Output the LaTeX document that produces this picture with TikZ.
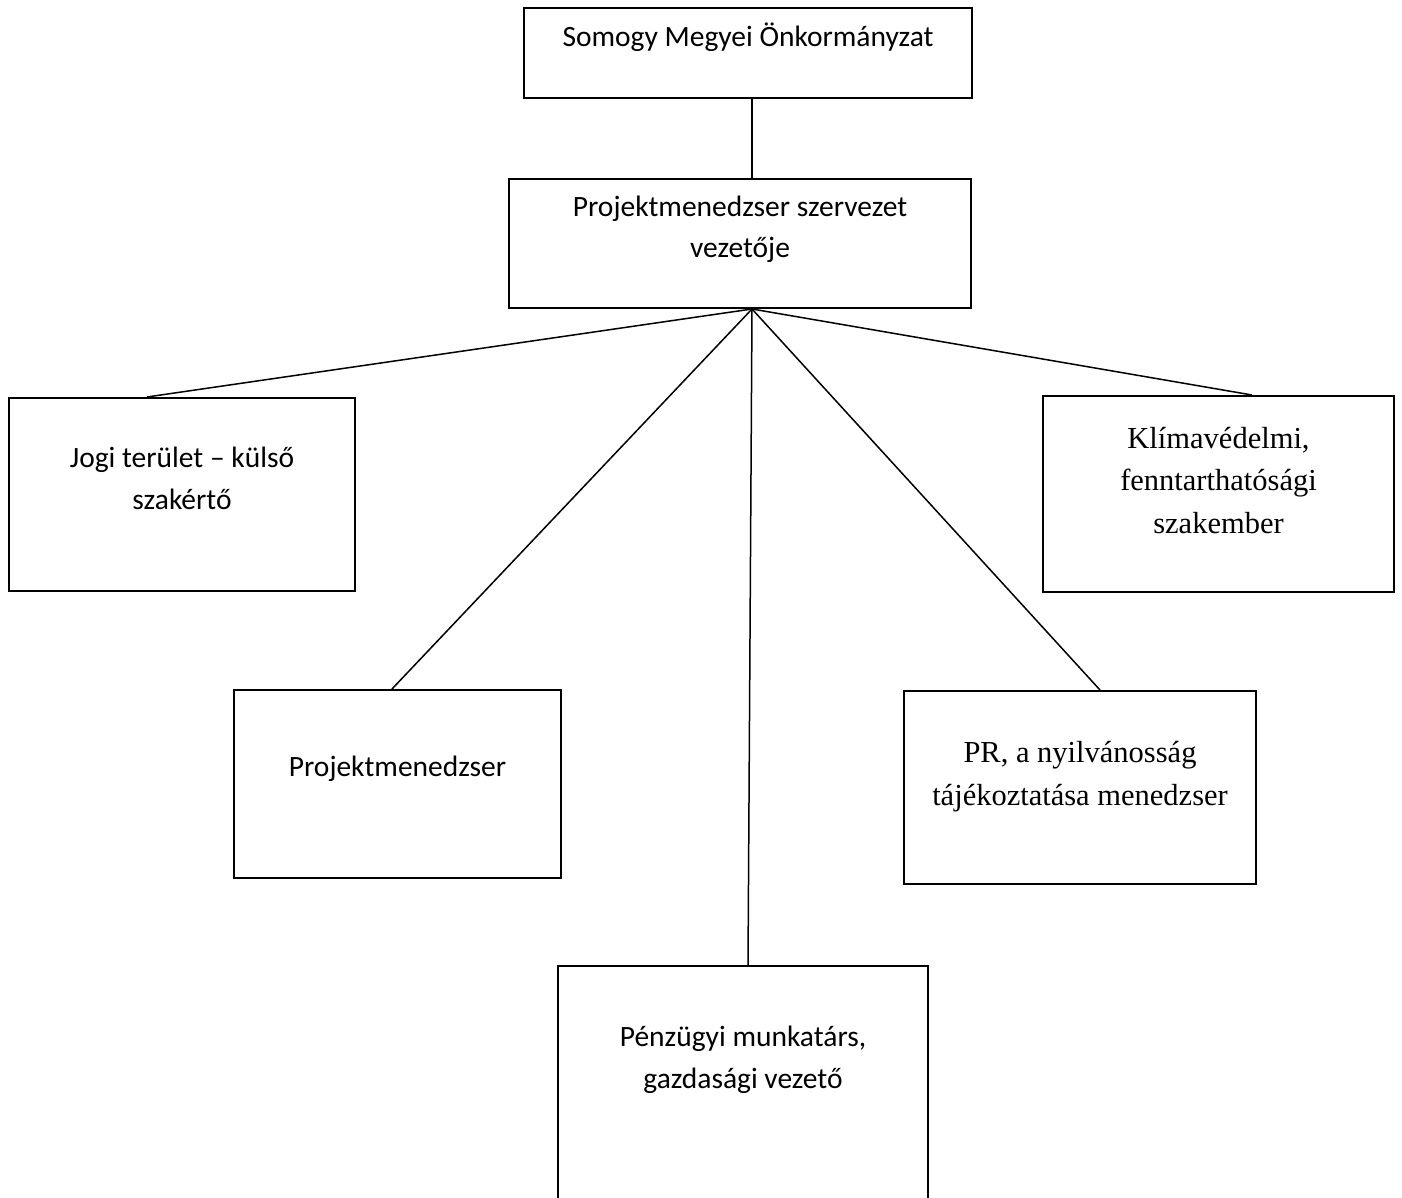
\documentclass[tikz,border=0pt]{standalone}
\usepackage{fontspec}
\setmainfont{Carlito}
\newfontfamily\timesfont{Liberation Serif}

\begin{document}
\begin{tikzpicture}[
                     x = 1pt,
                     y = -1pt,
             box/.style = {draw, line width=2pt, anchor=north west, inner sep=0pt},
            link/.style = {draw, line width=1.5pt},
             txt/.style = {align=center, inner sep=0pt, font=\fontsize{29.5}{41.5}\selectfont},
           serif/.style = {align=center, inner sep=0pt, font=\timesfont\fontsize{30.5}{42.5}\selectfont},
                   ]
\useasboundingbox (0,0) rectangle (1402,1198);

% label anchor=base sits on the last line
\node[box, minimum width=448pt, minimum height=90pt,
      label={[txt, anchor=base, yshift=-40pt]north:{Somogy Megyei Önkormányzat}}] (somogy) at (523,7) {};
\node[box, minimum width=462pt, minimum height=129pt,
      label={[txt, anchor=base, yshift=-80pt]north:{Projektmenedzser szervezet\\vezetője}}] (vezeto) at (508,178) {};

\node[box, minimum width=346pt, minimum height=193pt,
      label={[txt, anchor=base, yshift=-112pt]north:{Jogi terület – külső\\szakértő}}] (jogi) at (8,397) {};
\node[box, minimum width=351pt, minimum height=196pt,
      label={[serif, anchor=base, yshift=-138pt]north:{Klímavédelmi,\\fenntarthatósági\\szakember}}] (klima) at (1042,395) {};
\node[box, minimum width=327pt, minimum height=188pt,
      label={[txt, anchor=base, yshift=-87pt]north:{Projektmenedzser}}] (projm) at (233,689) {};
\node[box, minimum width=352pt, minimum height=193pt,
      label={[serif, anchor=base, yshift=-115pt]north:{PR, a nyilvánosság\\tájékoztatása menedzser}}] (pr) at (903,690) {};
% bottom edge runs off the page
\node[box, minimum width=370pt, minimum height=250pt,
      label={[txt, anchor=base, yshift=-123pt]north:{Pénzügyi munkatárs,\\gazdasági vezető}}] (penz) at (557,965) {};

\coordinate (hub) at (752,310);
\draw[link] (somogy.south -| hub) -- (vezeto.north -| hub);
\foreach \n/\dx in {jogi/139, projm/159, penz/191, pr/197, klima/210}
    \draw[link] (vezeto.south -| hub) -- ([xshift=\dx pt]\n.north west);
\end{tikzpicture}
\end{document}
